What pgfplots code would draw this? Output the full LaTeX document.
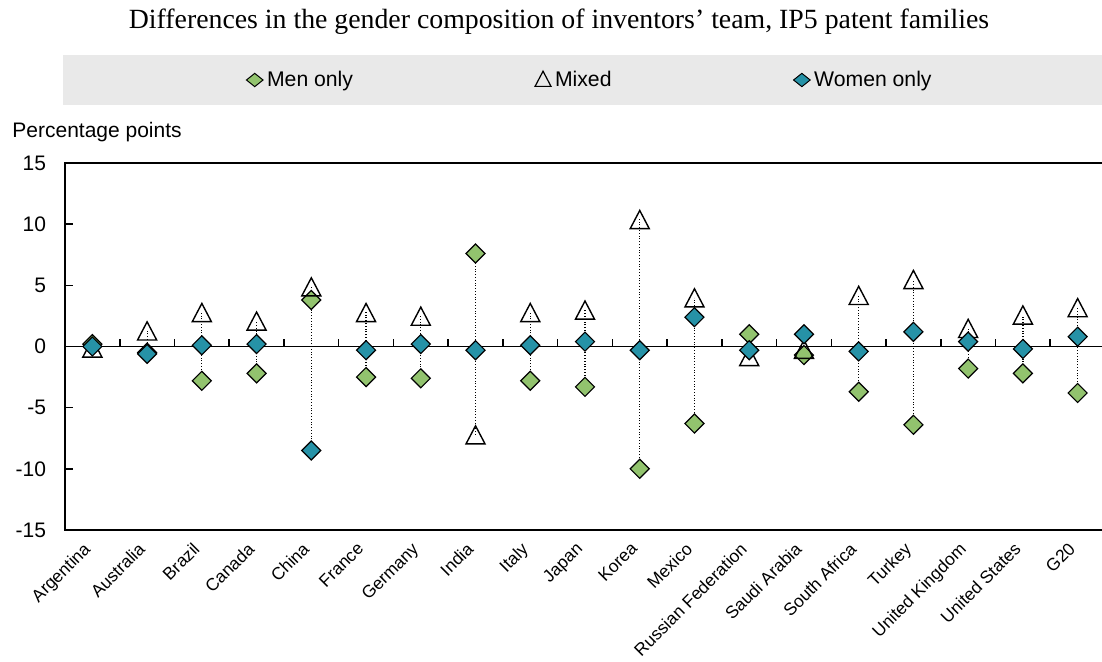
\documentclass[border=0pt]{standalone}
\usepackage{fontspec}
\setmainfont{Liberation Sans}
\newfontfamily\titlefont{Liberation Serif}
\usepackage{pgfplots}
\usepackage{pgfplotstable}
\pgfplotsset{compat=1.18}
\definecolor{mengreen}{RGB}{146,195,110}
\definecolor{womenteal}{RGB}{38,146,167}
\definecolor{legendgray}{RGB}{233,233,233}

\pgfplotstableread{
x men mixed women lo hi
0 0.2 -0.1 0.0 -0.1 0.2
1 -0.5 1.3 -0.6 -0.6 1.3
2 -2.8 2.8 0.1 -2.8 2.8
3 -2.2 2.1 0.2 -2.2 2.1
4 3.8 4.9 -8.5 -8.5 4.9
5 -2.5 2.8 -0.3 -2.5 2.8
6 -2.6 2.5 0.2 -2.6 2.5
7 7.6 -7.2 -0.3 -7.2 7.6
8 -2.8 2.8 0.1 -2.8 2.8
9 -3.3 3.0 0.4 -3.3 3.0
10 -10.0 10.4 -0.3 -10.0 10.4
11 -6.3 4.0 2.4 -6.3 4.0
12 1.0 -0.8 -0.3 -0.8 1.0
13 -0.7 -0.2 1.0 -0.7 1.0
14 -3.7 4.2 -0.4 -3.7 4.2
15 -6.4 5.5 1.2 -6.4 5.5
16 -1.8 1.5 0.4 -1.8 1.5
17 -2.2 2.6 -0.2 -2.2 2.6
18 -3.8 3.2 0.8 -3.8 3.2
}\data

\begin{document}
\begin{tikzpicture}
\useasboundingbox (-32.5pt,-65.5pt) rectangle (518.5pt,265pt);
\fill[legendgray] (-1pt,212.5pt) rectangle (518.5pt,237.5pt);
\begin{axis}[
  at={(0pt,0pt)}, anchor=south west,
  scale only axis, width=520pt, height=183.5pt,
  xmin=-0.5, xmax=18.5, ymin=-15, ymax=15,
  axis line style={line width=0.8pt},
  ytick={-15,-10,...,15}, ytick pos=left,
  tick align=inside, major tick length=3.9pt,
  y tick style={line width=0.8pt, black},
  xtick={0,...,18}, xtick pos=lower, x tick style={draw=none},
  xticklabels={Argentina,Australia,Brazil,Canada,China,France,Germany,India,Italy,Japan,Korea,Mexico,Russian Federation,Saudi Arabia,South Africa,Turkey,United Kingdom,United States,G20},
  xticklabel shift=7pt,
  x tick label style={rotate=45, anchor=north east, inner sep=0pt, xshift=-2.5pt, yshift=4.6pt, font=\fontsize{8.7}{10}\selectfont},
  y tick label style={xshift=-6pt, font=\fontsize{10.5}{12}\selectfont},
  /pgf/number format/assume math mode=true,
  legend columns=3,
  legend style={at={(0.5058,1.2262)}, anchor=center, draw=none, fill=none,
    font=\fontsize{10.6}{12}\selectfont,
    /tikz/every even column/.append style={column sep=89pt}},
]
\addlegendimage{only marks, mark=square*, mark size=2.35pt, mark options={xscale=1.25, rotate=45, fill=mengreen, draw=black, line width=0.5pt}}
\addlegendentry{Men only}
\addlegendimage{only marks, mark=triangle, mark size=4.6pt, mark options={yscale=1.1, yshift=-0.6pt, fill=white, draw=black, line width=0.6pt}}
\addlegendentry{Mixed}
\addlegendimage{only marks, mark=square*, mark size=2.35pt, mark options={xscale=1.25, rotate=45, fill=womenteal, draw=black, line width=0.5pt}}
\addlegendentry{Women only}

\addplot[black, line width=0.9pt, forget plot] coordinates {(-0.5,0) (18.5,0)};
\addplot[draw=none, mark=none, forget plot,
  error bars/.cd, y dir=plus, y fixed=0.62, error mark=none,
  error bar style={black, line width=0.8pt}]
  coordinates {(0.5,0) (1.5,0) (2.5,0) (3.5,0) (4.5,0) (5.5,0) (6.5,0) (7.5,0) (8.5,0) (9.5,0) (10.5,0) (11.5,0) (12.5,0) (13.5,0) (14.5,0) (15.5,0) (16.5,0) (17.5,0)};
\addplot[draw=none, mark=none, forget plot,
  error bars/.cd, y dir=plus, y explicit, error mark=none,
  error bar style={black, densely dotted, line width=0.6pt}]
  table[x=x, y=lo, y error expr=\thisrow{hi}-\thisrow{lo}] {\data};
\addplot[only marks, forget plot, mark=square*, mark size=3.36pt, mark options={rotate=45, fill=mengreen, draw=black, line width=0.6pt}]
  table[x=x, y=men] {\data};
\addplot[only marks, forget plot, mark=triangle, mark size=5.5pt, mark options={fill=white, draw=black, line width=0.7pt, yscale=1.1, yshift=-1.5pt}]
  table[x=x, y=mixed] {\data};
\addplot[only marks, forget plot, mark=square*, mark size=3.36pt, mark options={rotate=45, fill=womenteal, draw=black, line width=0.6pt}]
  table[x=x, y=women] {\data};
\end{axis}
\node[anchor=west, inner sep=0pt, font=\fontsize{10.5}{12}\selectfont] at (-26.5pt,199pt) {Percentage points};
\node[inner sep=0pt, font=\titlefont\fontsize{13.9}{16}\selectfont] at (247pt,254pt) {Differences in the gender composition of inventors’ team, IP5 patent families};
\end{tikzpicture}
\end{document}
